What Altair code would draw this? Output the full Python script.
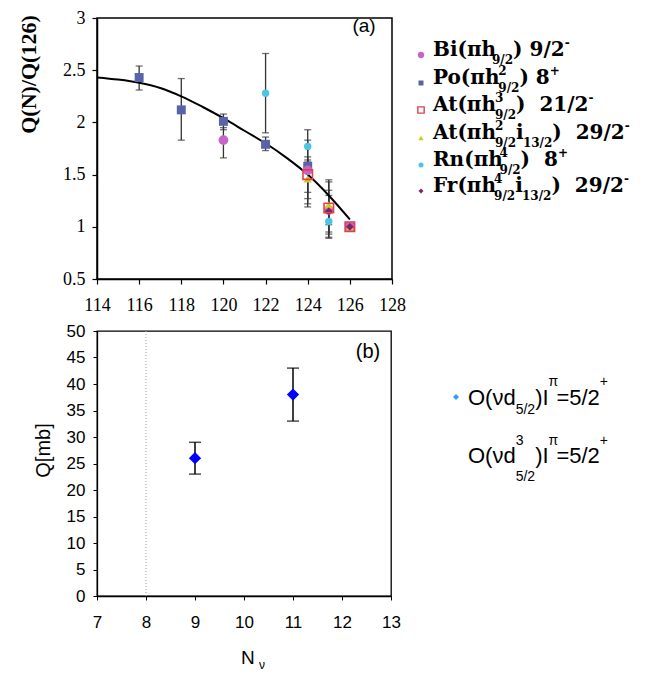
import altair as alt
import pandas as pd

# ---------------- panel (a): Q(N)/Q(126) ----------------
a_xticks = [114, 116, 118, 120, 122, 124, 126, 128]
a_yticks = [0.5, 1.0, 1.5, 2.0, 2.5, 3.0]

bi_n = [120, 124, 125, 126]
bi_q = [1.83, 1.54, 1.16, 1.00]
bi_lo = [1.66, 1.33, 1.02, None]
bi_hi = [1.95, 1.67, 1.30, None]

po_n = [116, 118, 120, 122, 124, 126]
po_q = [2.43, 2.12, 2.01, 1.79, 1.58, 1.00]
po_lo = [2.31, 1.83, 1.93, 1.73, 1.27, None]
po_hi = [2.54, 2.42, 2.08, 1.86, 1.83, None]

at21_n = [124, 125, 126]
at21_q = [1.50, 1.18, 1.00]
at21_lo = [1.22, 0.89, None]
at21_hi = [1.64, 1.43, None]

at29_n = [124, 125, 126]
at29_q = [1.46, 1.21, 1.00]
at29_lo = [1.19, 0.95, None]
at29_hi = [1.58, 1.45, None]

rn_n = [122, 124, 125, 126]
rn_q = [2.28, 1.77, 1.05, 1.00]
rn_lo = [1.90, 1.62, 0.93, None]
rn_hi = [2.66, 1.93, 1.17, None]

fr_n = [125, 126]
fr_q = [1.15, 1.00]
fr_lo = [0.90, None]
fr_hi = [1.35, None]

fit_n = [114, 115, 116, 117, 118, 119, 120, 121, 122, 123, 124, 125, 126]
fit_q = [2.43, 2.41, 2.38, 2.33, 2.25, 2.15, 2.04, 1.92, 1.80, 1.66, 1.50, 1.30, 1.07]

# ---------------- panel (b): Q[mb] vs N_nu ----------------
b_xticks = [7, 8, 9, 10, 11, 12, 13]
b_yticks = [0, 5, 10, 15, 20, 25, 30, 35, 40, 45, 50]
b_n = [9, 11]
b_q = [26, 38]
b_lo = [23, 33]
b_hi = [29, 43]
b_shell = 8

# ---------------- styles ----------------
A_W, A_H = 295, 261
B_W, B_H = 294, 265

styles = {
    "Po":   dict(shape="square", color="#5863A8", size=80, filled=True, leg=25),
    "Rn":   dict(shape="circle", color="#4CC4E4", size=55, filled=True, leg=25),
    "Bi":   dict(shape="circle", color="#C864C8", size=95, filled=True, leg=40),
    "At29": dict(shape="triangle-up", color="#CDCD28", size=70, filled=True, leg=30),
    "Fr":   dict(shape="diamond", color="#7C2470", size=60, filled=True, leg=25),
    "At21": dict(shape="square", color="#E0404C", size=90, filled=False, leg=40),
}
series_data = {
    "Bi": (bi_n, bi_q, bi_lo, bi_hi),
    "Po": (po_n, po_q, po_lo, po_hi),
    "At21": (at21_n, at21_q, at21_lo, at21_hi),
    "At29": (at29_n, at29_q, at29_lo, at29_hi),
    "Rn": (rn_n, rn_q, rn_lo, rn_hi),
    "Fr": (fr_n, fr_q, fr_lo, fr_hi),
}

rows = []
for name, (ns, qs, los, his) in series_data.items():
    for n, q, lo, hi in zip(ns, qs, los, his):
        rows.append(dict(series=name, N=n, Q=q, lo=lo, hi=hi))
df_a = pd.DataFrame(rows)
df_err = df_a.dropna(subset=["lo"])
df_fit = pd.DataFrame({"N": fit_n, "Q": fit_q})
df_b = pd.DataFrame({"N": b_n, "Q": b_q, "lo": b_lo, "hi": b_hi})
dummy = pd.DataFrame({"k": [0]})

SERIF = "Liberation Serif"
SANS = "Liberation Sans"

ax_a_x = alt.Axis(values=a_xticks, title=None, grid=False, labelFont=SERIF, labelFontSize=18,
                  labelColor="black", tickColor="black", tickSize=5, tickWidth=1.2,
                  domainColor="black", domainWidth=1.5, labelPadding=12, labelFlush=False)
ax_a_y = alt.Axis(values=a_yticks, format="~g", title="Q(N)/Q(126)", grid=False,
                  titleFont=SERIF, titleFontSize=22, titleFontWeight="bold", titleColor="black",
                  titlePadding=22, titleY=56, labelFont=SERIF, labelFontSize=18,
                  labelColor="black", tickColor="black", tickSize=5, tickWidth=1.2,
                  domainColor="black", domainWidth=1.5, labelPadding=7, labelFlush=False)


def xa(field):
    return alt.X(f"{field}:Q", scale=alt.Scale(domain=[114, 128], nice=False, zero=False), axis=ax_a_x)


def ya(field):
    return alt.Y(f"{field}:Q", scale=alt.Scale(domain=[0.5, 3], nice=False, zero=False), axis=ax_a_y)


def tmark(txt, x, y, fs, font, weight):
    return alt.Chart(dummy).mark_text(
        text=txt, align="left", baseline="alphabetic", font=font, fontSize=fs,
        fontWeight=weight, color="black"
    ).encode(x=alt.value(x), y=alt.value(y))


W_SERIF_B = {"A": 0.774, "B": 0.762, "F": 0.715, "P": 0.733, "R": 0.770, "t": 0.478, "i": 0.343,
             "h": 0.712, "o": 0.687, "n": 0.712, "r": 0.493, "(": 0.473, ")": 0.473, "\u03c0": 0.66,
             "/": 0.365, " ": 0.348, "\u00a0": 0.348, "-": 0.415, "+": 0.838}
W_SANS = {"O": 0.778, "(": 0.333, ")": 0.333, "\u03bd": 0.5, "d": 0.556, "I": 0.278, "\u03c0": 0.56,
          "=": 0.584, "+": 0.584, "/": 0.278, " ": 0.278}


def tw(s, fs, table):
    return sum(table.get(c, 0.696 if c.isdigit() and table is W_SERIF_B else 0.556) for c in s) * fs


def rich(pieces, x0, base, fs, sfs, font, weight, table, sup_dy, sub_dy):
    out = []
    x = x0
    for kind, t in pieces:
        if kind == "m":
            out.append(tmark(t, x, base, fs, font, weight))
            x += tw(t, fs, table)
        elif kind == "sub":
            out.append(tmark(t, x, base + sub_dy, sfs, font, weight))
            x += tw(t, sfs, table)
        elif kind == "sup":
            out.append(tmark(t, x, base + sup_dy, sfs, font, weight))
            x += tw(t, sfs, table)
        else:  # stacked superscript + subscript
            sp, sb = t
            out.append(tmark(sp, x, base + sup_dy, sfs, font, weight))
            out.append(tmark(sb, x, base + sub_dy, sfs, font, weight))
            x += max(tw(sp, sfs, table), tw(sb, sfs, table))
    return out


NB = "\u00a0"
PI = "\u03c0"
legend_a = [
    ("Bi", [("m", f"Bi({PI}h"), ("sub", "9/2"), ("m", ") 9/2"), ("sup", "-")]),
    ("Po", [("m", f"Po({PI}h"), ("ss", ("2", "9/2")), ("m", ") 8"), ("sup", "+")]),
    ("At21", [("m", f"At({PI}h"), ("ss", ("3", "9/2")), ("m", f"){NB}{NB}21/2"), ("sup", "-")]),
    ("At29", [("m", f"At({PI}h"), ("ss", ("2", "9/2")), ("m", "i"), ("sub", "13/2"),
              ("m", f"){NB}{NB}29/2"), ("sup", "-")]),
    ("Rn", [("m", f"Rn({PI}h"), ("ss", ("4", "9/2")), ("m", f"){NB}{NB}8"), ("sup", "+")]),
    ("Fr", [("m", f"Fr({PI}h"), ("ss", ("4", "9/2")), ("m", "i"), ("sub", "13/2"),
            ("m", f"){NB}{NB}29/2"), ("sup", "-")]),
]
leg_a_base = [38, 66, 93, 121, 148, 174]
leg_a_mx, leg_a_tx = 324, 336

# ---------------- build panel (a) ----------------
layers_a = []
layers_a.append(alt.Chart(df_err).mark_rule(color="#333333", strokeWidth=1.3).encode(
    x=xa("N"), y=ya("lo"), y2="hi:Q"))
for fld in ["lo", "hi"]:
    layers_a.append(alt.Chart(df_err).mark_tick(orient="horizontal", color="#333333", size=7,
                                                thickness=1.3).encode(x=xa("N"), y=ya(fld)))
layers_a.append(alt.Chart(df_fit).mark_line(color="black", strokeWidth=2, interpolate="monotone").encode(
    x=xa("N"), y=ya("Q")))
for name in ["Po", "Rn", "Bi", "At29", "Fr", "At21"]:
    st = styles[name]
    sub = df_a[df_a.series == name]
    if st["filled"]:
        mk = alt.Chart(sub).mark_point(shape=st["shape"], filled=True, color=st["color"],
                                       size=st["size"], opacity=1)
    else:
        mk = alt.Chart(sub).mark_point(shape=st["shape"], filled=False, color=st["color"],
                                       size=st["size"], opacity=1, strokeWidth=1.6)
    layers_a.append(mk.encode(x=xa("N"), y=ya("Q")))

layers_a.append(alt.Chart(dummy).mark_text(text="(a)", font=SANS, fontSize=19, align="center",
                                           baseline="middle", color="black").encode(
    x=alt.value(267), y=alt.value(8)))

for (name, pieces), base in zip(legend_a, leg_a_base):
    st = styles[name]
    if st["filled"]:
        lm = alt.Chart(dummy).mark_point(shape=st["shape"], filled=True, color=st["color"],
                                         size=st["leg"], opacity=1)
    else:
        lm = alt.Chart(dummy).mark_point(shape=st["shape"], filled=False, color=st["color"],
                                         size=st["leg"], opacity=1, strokeWidth=1.4)
    layers_a.append(lm.encode(x=alt.value(leg_a_mx), y=alt.value(base - 1)))
    layers_a += rich(pieces, leg_a_tx, base, 20, 12, "DejaVu Serif", "bold", W_SERIF_B, -9, 8)

panel_a = alt.layer(*layers_a).properties(
    width=A_W, height=A_H, view=alt.ViewBackground(stroke="black", strokeWidth=1.5))

# ---------------- build panel (b) ----------------
ax_b_x = alt.Axis(values=b_xticks, title=None, grid=False, labelFont=SANS, labelFontSize=17,
                  labelColor="black", tickColor="black", tickSize=4, tickWidth=1,
                  domainColor="black", domainWidth=1.3, labelPadding=14, labelFlush=False)
ax_b_y = alt.Axis(values=b_yticks, title="Q[mb]", grid=False, titleFont=SANS, titleFontSize=20,
                  titleFontWeight="normal", titleColor="black", titlePadding=13, titleY=119,
                  labelFont=SANS, labelFontSize=17, labelColor="black", tickColor="black",
                  tickSize=4, tickWidth=1, domainColor="black", domainWidth=1.3, labelPadding=8,
                  labelFlush=False)


def xb(field):
    return alt.X(f"{field}:Q", scale=alt.Scale(domain=[7, 13], nice=False, zero=False), axis=ax_b_x)


def yb(field):
    return alt.Y(f"{field}:Q", scale=alt.Scale(domain=[0, 50], nice=False, zero=False), axis=ax_b_y)


layers_b = []
layers_b.append(alt.Chart(dummy).mark_rule(color="#999999", strokeWidth=1, strokeDash=[1, 2]).encode(
    x=alt.datum(b_shell, scale=alt.Scale(domain=[7, 13], nice=False, zero=False))))
layers_b.append(alt.Chart(df_b).mark_rule(color="black", strokeWidth=1.5).encode(
    x=xb("N"), y=yb("lo"), y2="hi:Q"))
for fld in ["lo", "hi"]:
    layers_b.append(alt.Chart(df_b).mark_tick(orient="horizontal", color="black", size=12,
                                              thickness=1.5).encode(x=xb("N"), y=yb(fld)))
layers_b.append(alt.Chart(df_b).mark_point(shape="diamond", filled=True, color="#0000FF",
                                           size=150, opacity=1).encode(x=xb("N"), y=yb("Q")))
layers_b.append(alt.Chart(dummy).mark_text(text="(b)", font=SANS, fontSize=20, align="center",
                                           baseline="middle", color="black").encode(
    x=alt.value(271), y=alt.value(21)))
# x-axis title N_nu
layers_b.append(tmark("N", 144, 333, 19, SANS, "normal"))
layers_b.append(tmark("\u03bd", 162, 338, 12, SANS, "normal"))

# legend (b)
layers_b.append(alt.Chart(dummy).mark_point(shape="diamond", filled=True, color="#3399FF",
                                            size=36, opacity=1).encode(
    x=alt.value(359), y=alt.value(66)))
NU = "\u03bd"
leg_b1 = [("m", f"O({NU}d"), ("sub", "5/2"), ("m", ")I"), ("sup", PI), ("m", "=5/2"), ("sup", "+")]
leg_b2 = [("m", f"O({NU}d"), ("ss", ("3", "5/2")), ("m", ")I"), ("sup", PI), ("m", "=5/2"), ("sup", "+")]
layers_b += rich(leg_b1, 371, 74, 22, 14, SANS, "normal", W_SANS, -19, 9)
layers_b += rich(leg_b2, 371, 132, 22, 14, SANS, "normal", W_SANS, -18, 18)

panel_b = alt.layer(*layers_b).properties(
    width=B_W, height=B_H, view=alt.ViewBackground(stroke="black", strokeWidth=1.3))

chart = alt.vconcat(panel_a, panel_b, spacing=6).properties(
    padding={"left": 8, "top": 0, "right": 0, "bottom": 0}, background="white")

chart.save("out.html", embed_options={"renderer": "svg", "actions": False})
